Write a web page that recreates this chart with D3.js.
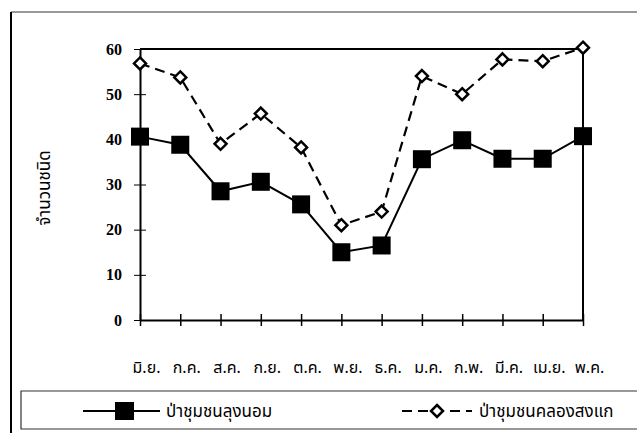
<!DOCTYPE html>
<html>
<head>
<meta charset="utf-8">
<script src="https://cdn.jsdelivr.net/npm/d3@7"></script>
<style>
  body { margin: 0; background: #fff; }
  svg { display: block; }
</style>
</head>
<body>
<div id="chart"></div>
<script>
// line chart: species count per month, two community forests
// ===========================================================

var months = ['มิ.ย.', 'ก.ค.', 'ส.ค.', 'ก.ย.', 'ต.ค.', 'พ.ย.', 'ธ.ค.', 'ม.ค.', 'ก.พ.', 'มี.ค.', 'เม.ย.', 'พ.ค.'];
var lungNom = [40.6, 38.8, 28.5, 30.6, 25.6, 15, 16.5, 35.6, 39.8, 35.7, 35.7, 40.7];      // ป่าชุมชนลุงนอม
var khlongSongKae = [56.8, 53.7, 39, 45.7, 38.2, 21, 24, 54, 50, 57.7, 57.3, 60.3];      // ป่าชุมชนคลองสงแก
var yTicks = [0, 10, 20, 30, 40, 50, 60];
var yTitle = 'จำนวนชนิด';
var seriesNames = ['ป่าชุมชนลุงนอม', 'ป่าชุมชนคลองสงแก'];

var width = 637,
    height = 433;

var thai = '"Noto Sans Thai", "Noto Sans", "DejaVu Sans", sans-serif';
var serif = '"Liberation Serif", "DejaVu Serif", serif';

var svg = d3.select("#chart").append("svg")
    .attr("width", width)
    .attr("height", height);

var x = d3.scalePoint()
    .domain(months)
    .range([140, 583]);

var y = d3.scaleLinear()
    .domain([0, 60])
    .range([320, 49]);

// outer frame (only top + left survive in the scan)
svg.append("line").attr("x1", 11).attr("x2", 637).attr("y1", 12).attr("y2", 12)
   .attr("stroke", "#777").attr("stroke-width", 1.5);
svg.append("line").attr("x1", 11).attr("x2", 11).attr("y1", 12).attr("y2", 433)
   .attr("stroke", "#000").attr("stroke-width", 2);

// plot frame top + right
svg.append("path")
   .attr("d", "M140," + y(60) + "H583V" + y(0))
   .attr("fill", "none").attr("stroke", "#000").attr("stroke-width", 2);

// y axis
var yAxis = svg.append("g")
   .attr("transform", "translate(140,0)")
   .call(d3.axisLeft(y).tickValues(yTicks).tickSize(0).tickPadding(18));
yAxis.select(".domain").attr("stroke", "#000").attr("stroke-width", 2);
yAxis.selectAll(".tick text")
   .attr("font-family", serif).attr("font-size", 16).attr("font-weight", "bold").attr("fill", "#000");
yAxis.selectAll(".tick").append("line")
   .attr("x1", -6).attr("x2", 6).attr("stroke", "#000").attr("stroke-width", 1);

// x axis
var xAxis = svg.append("g")
   .attr("transform", "translate(0," + y(0) + ")")
   .call(d3.axisBottom(x).tickSize(0).tickPadding(42));
xAxis.select(".domain").attr("stroke", "#000").attr("stroke-width", 2);
xAxis.selectAll(".tick text")
   .attr("font-family", thai).attr("font-size", 16).attr("fill", "#000")
   .attr("dx", 6);
xAxis.selectAll(".tick").append("line")
   .attr("y1", -6).attr("y2", 6).attr("stroke", "#000").attr("stroke-width", 1.5);

// y title
svg.append("text")
   .attr("transform", "translate(50,188) rotate(-90)")
   .attr("text-anchor", "middle")
   .attr("font-family", thai).attr("font-size", 17)
   .text(yTitle);

var line = d3.line()
   .x(function(d, i) { return x(months[i]); })
   .y(function(d) { return y(d); });

var diamond = "M0,-6L6,0L0,6L-6,0Z";

// dashed series
svg.append("path")
   .datum(khlongSongKae)
   .attr("d", line)
   .attr("fill", "none").attr("stroke", "#000")
   .attr("stroke-width", 2.2).attr("stroke-dasharray", "10,6");

// solid series
svg.append("path")
   .datum(lungNom)
   .attr("d", line)
   .attr("fill", "none").attr("stroke", "#000").attr("stroke-width", 2);

svg.selectAll("rect.sq")
   .data(lungNom)
   .enter().append("rect")
   .attr("class", "sq")
   .attr("x", function(d, i) { return x(months[i]) - 9; })
   .attr("y", function(d) { return y(d) - 9; })
   .attr("width", 18).attr("height", 18)
   .attr("fill", "#000");

svg.selectAll("path.dm")
   .data(khlongSongKae)
   .enter().append("path")
   .attr("class", "dm")
   .attr("transform", function(d, i) { return "translate(" + x(months[i]) + "," + y(d) + ")"; })
   .attr("d", diamond)
   .attr("fill", "#fff").attr("stroke", "#000").attr("stroke-width", 2.5);

// legend box
svg.append("path")
   .attr("d", "M637,391H21V429H637")
   .attr("fill", "none").attr("stroke", "#333").attr("stroke-width", 1.2);

var leg = svg.append("g");
leg.append("line").attr("x1", 83).attr("x2", 160).attr("y1", 411).attr("y2", 411)
   .attr("stroke", "#000").attr("stroke-width", 2);
leg.append("rect").attr("x", 115).attr("y", 402).attr("width", 19).attr("height", 18).attr("fill", "#000");
leg.append("text").attr("x", 166).attr("y", 417)
   .attr("font-family", thai).attr("font-size", 17).text(seriesNames[0]);

leg.append("line").attr("x1", 402).attr("x2", 472).attr("y1", 411).attr("y2", 411)
   .attr("stroke", "#000").attr("stroke-width", 2.2).attr("stroke-dasharray", "10,6");
leg.append("path").attr("transform", "translate(437,411)").attr("d", diamond)
   .attr("fill", "#fff").attr("stroke", "#000").attr("stroke-width", 2.5);
leg.append("text").attr("x", 479).attr("y", 417)
   .attr("font-family", thai).attr("font-size", 17).text(seriesNames[1]);
</script>
</body>
</html>
